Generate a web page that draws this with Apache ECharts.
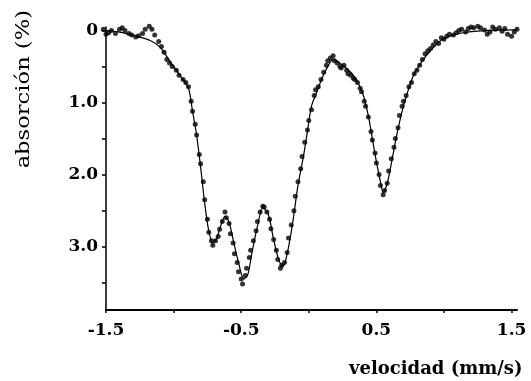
<!DOCTYPE html>
<html>
<head>
<meta charset="utf-8">
<script src="https://cdn.jsdelivr.net/npm/echarts@6/dist/echarts.min.js"></script>
<style>
  html, body { margin: 0; padding: 0; background: #fff; }
  #main { width: 531px; height: 381px; }
</style>
</head>
<body>
<div id="main"></div>
<script>
// measured points (velocity mm/s, absorption %)
const dataVelocity = [
  -1.52, -1.50, -1.48, -1.46, -1.43, -1.40, -1.38, -1.36, -1.33, -1.31,
  -1.28, -1.26, -1.23, -1.21, -1.18, -1.16, -1.14, -1.11, -1.09, -1.07,
  -1.05, -1.03, -1.01, -0.98, -0.96, -0.93, -0.91, -0.89, -0.87, -0.86,
  -0.84, -0.83, -0.81, -0.80, -0.78, -0.77, -0.75, -0.74, -0.72, -0.71,
  -0.69, -0.67, -0.66, -0.64, -0.62, -0.61, -0.59, -0.58, -0.56, -0.55,
  -0.53, -0.52, -0.50, -0.49, -0.47, -0.46, -0.44, -0.43, -0.41, -0.39,
  -0.38, -0.36, -0.34, -0.33, -0.31, -0.29, -0.28, -0.26, -0.24, -0.23,
  -0.21, -0.20, -0.18, -0.16, -0.15, -0.13, -0.11, -0.10, -0.08, -0.06,
  -0.05, -0.03, -0.01, 0.00, 0.02, 0.04, 0.05, 0.07, 0.09, 0.11,
  0.13, 0.14, 0.16, 0.18, 0.19, 0.21, 0.23, 0.24, 0.26, 0.28,
  0.29, 0.31, 0.33, 0.34, 0.36, 0.38, 0.39, 0.41, 0.42, 0.44,
  0.46, 0.47, 0.49, 0.50, 0.52, 0.53, 0.55, 0.56, 0.58, 0.59,
  0.61, 0.63, 0.64, 0.66, 0.67, 0.69, 0.70, 0.72, 0.74, 0.76,
  0.78, 0.80, 0.82, 0.84, 0.86, 0.88, 0.90, 0.92, 0.94, 0.96,
  0.98, 1.00, 1.02, 1.04, 1.07, 1.09, 1.11, 1.13, 1.16, 1.18,
  1.20, 1.22, 1.25, 1.27, 1.30, 1.32, 1.34, 1.36, 1.38, 1.41,
  1.43, 1.45, 1.47, 1.50, 1.52, 1.54
];
const dataAbsorption = [
  -0.02, 0.05, 0.03, 0.00, 0.04, -0.02, -0.04, 0.00, 0.04, 0.06,
  0.09, 0.07, 0.04, -0.02, -0.06, -0.02, 0.06, 0.15, 0.22, 0.30,
  0.40, 0.45, 0.50, 0.55, 0.62, 0.68, 0.72, 0.78, 0.98, 1.12,
  1.30, 1.45, 1.72, 1.85, 2.10, 2.35, 2.62, 2.80, 2.92, 2.98,
  2.92, 2.86, 2.76, 2.65, 2.52, 2.60, 2.68, 2.82, 2.95, 3.10,
  3.22, 3.35, 3.45, 3.52, 3.40, 3.30, 3.15, 3.05, 2.92, 2.78,
  2.65, 2.52, 2.44, 2.45, 2.52, 2.62, 2.75, 2.90, 3.05, 3.18,
  3.30, 3.26, 3.22, 3.08, 2.88, 2.70, 2.50, 2.30, 2.10, 1.92,
  1.75, 1.55, 1.38, 1.25, 1.10, 0.90, 0.82, 0.78, 0.68, 0.58,
  0.48, 0.42, 0.38, 0.35, 0.42, 0.45, 0.50, 0.52, 0.48, 0.55,
  0.60, 0.62, 0.66, 0.68, 0.72, 0.80, 0.85, 0.98, 1.05, 1.20,
  1.40, 1.52, 1.70, 1.84, 2.00, 2.15, 2.28, 2.22, 2.12, 1.95,
  1.78, 1.62, 1.50, 1.35, 1.18, 1.05, 0.98, 0.90, 0.78, 0.72,
  0.60, 0.55, 0.48, 0.40, 0.32, 0.28, 0.25, 0.20, 0.15, 0.18,
  0.10, 0.12, 0.08, 0.05, 0.06, 0.03, 0.00, -0.02, 0.02, -0.03,
  -0.05, -0.04, -0.06, -0.04, -0.01, 0.05, 0.02, -0.05, -0.02, -0.04,
  0.01, -0.03, 0.05, 0.08, 0.02, -0.02
];

// fitted curve
const fitVelocity = [
  -1.52, -1.40, -1.27, -1.17, -1.10, -1.03, -0.95, -0.89, -0.86, -0.83,
  -0.80, -0.77, -0.74, -0.71, -0.68, -0.65, -0.62, -0.59, -0.56, -0.52,
  -0.48, -0.45, -0.42, -0.38, -0.34, -0.30, -0.26, -0.22, -0.19, -0.16,
  -0.12, -0.08, -0.04, -0.01, 0.02, 0.06, 0.10, 0.14, 0.18, 0.25,
  0.33, 0.40, 0.44, 0.47, 0.50, 0.53, 0.55, 0.58, 0.61, 0.64,
  0.67, 0.70, 0.74, 0.78, 0.84, 0.90, 0.99, 1.14, 1.30, 1.54
];
const fitAbsorption = [
  0.00, 0.02, 0.08, 0.14, 0.23, 0.42, 0.63, 0.80, 1.12, 1.45,
  1.90, 2.40, 2.78, 2.95, 2.88, 2.70, 2.58, 2.66, 2.90, 3.22,
  3.45, 3.38, 3.08, 2.72, 2.46, 2.55, 2.90, 3.20, 3.27, 3.10,
  2.68, 2.15, 1.75, 1.40, 1.05, 0.85, 0.65, 0.50, 0.40, 0.48,
  0.62, 0.88, 1.18, 1.50, 1.82, 2.10, 2.25, 2.12, 1.85, 1.55,
  1.28, 1.05, 0.80, 0.60, 0.42, 0.28, 0.12, 0.03, 0.00, -0.01
];

const xTicks = [-1.5, -1.0, -0.5, 0, 0.5, 1.0, 1.5];
const xTickLabels = [-1.5, -0.5, 0.5, 1.5];
const yTicks = [0, 0.5, 1.0, 1.5, 2.0, 2.5, 3.0, 3.5];
const yTickLabels = [0, 1.0, 2.0, 3.0];

const points = dataVelocity.map((v, i) => [v, dataAbsorption[i]]);
const fit = fitVelocity.map((v, i) => [v, fitAbsorption[i]]);

const tickFont = {
  color: '#000',
  fontFamily: 'DejaVu Serif',
  fontWeight: 'bold',
  fontSize: 17,
};

const chart = echarts.init(document.getElementById('main'), null, { renderer: 'canvas' });

chart.setOption({
  backgroundColor: '#fff',
  animation: false,
  grid: {
    left: 106,
    right: 14,
    top: 27,
    bottom: 71,
    containLabel: false,
    outerBoundsMode: 'none',
  },
  xAxis: {
    type: 'value',
    min: -1.5,
    max: 1.54,
    axisLine: { onZero: false, lineStyle: { color: '#000', width: 2 } },
    axisTick: { customValues: xTicks, length: 3, lineStyle: { color: '#000', width: 1.5 } },
    axisLabel: Object.assign({
      customValues: xTickLabels,
      margin: 12,
      formatter: (v) => v.toFixed(1),
    }, tickFont),
    splitLine: { show: false },
  },
  yAxis: {
    type: 'value',
    inverse: true,
    min: -0.05,
    max: 3.88,
    axisLine: { onZero: false, lineStyle: { color: '#000', width: 1.5 } },
    axisTick: { customValues: yTicks, length: 4, lineStyle: { color: '#000', width: 1.5 } },
    axisLabel: Object.assign({
      customValues: yTickLabels,
      margin: 8,
      formatter: (v) => (v === 0 ? '0' : v.toFixed(1)),
    }, tickFont),
    splitLine: { show: false },
  },
  graphic: [
    {
      // y title, rotated and stretched a bit along its length
      type: 'text',
      left: 15,
      top: 10,
      rotation: Math.PI / 2,
      scaleX: 1.19,
      style: {
        text: 'absorción (%)',
        fill: '#000',
        font: '19px "DejaVu Serif"',
      },
    },
    {
      type: 'text',
      left: 349,
      top: 360,
      style: {
        text: 'velocidad (mm/s)',
        fill: '#000',
        font: 'bold 18px "DejaVu Serif"',
      },
    },
  ],
  series: [
    {
      type: 'line',
      data: fit,
      smooth: 0.3,
      showSymbol: false,
      clip: false,
      lineStyle: { color: '#000', width: 1.2 },
      z: 2,
    },
    {
      type: 'scatter',
      data: points,
      symbol: 'circle',
      symbolSize: 5,
      clip: false,
      itemStyle: { color: '#000' },
      z: 3,
    },
  ],
});
</script>
</body>
</html>
